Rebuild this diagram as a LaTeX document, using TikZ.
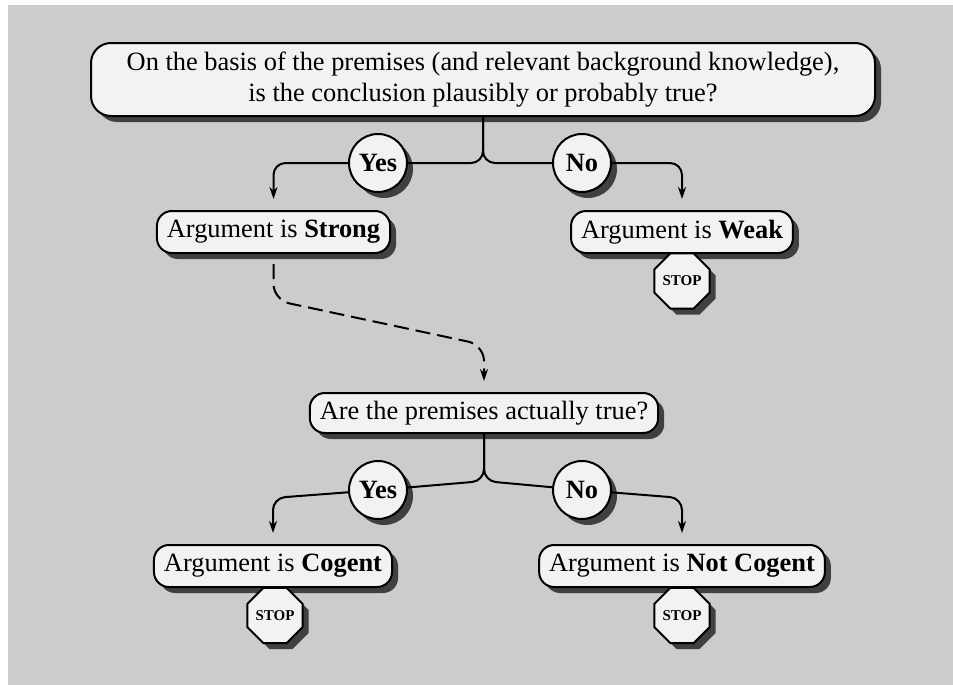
\documentclass[tikz,border=0pt]{standalone}
\usepackage{fontspec}
\setmainfont{Liberation Serif}
\usetikzlibrary{shapes.geometric,shadows,arrows.meta}

\definecolor{bggray}{HTML}{CCCCCC}
\definecolor{boxfill}{HTML}{F2F2F2}
\definecolor{shade}{HTML}{404040}

\tikzset{
  dropshade/.style={drop shadow={shadow xshift=3pt, shadow yshift=-3pt, fill=shade, opacity=1}},
  qbox/.style={draw, line width=1pt, fill=boxfill, rounded corners=7.5pt, minimum height=21pt,
    inner xsep=5pt, inner ysep=2pt, dropshade},
  answer/.style={circle, draw, line width=1pt, fill=boxfill, minimum size=29pt, inner sep=0pt,
    font=\bfseries\fontsize{13.2}{15.5}\selectfont, dropshade},
  stopsign/.style={regular polygon, regular polygon sides=8, draw, line width=1pt, fill=boxfill,
    minimum size=30pt, inner sep=0pt, font=\bfseries\fontsize{7.5}{9}\selectfont, dropshade},
  flow/.style={line width=1pt, rounded corners=6pt}
}

\begin{document}
\begin{tikzpicture}[x=0.5pt, y=-0.5pt, font=\fontsize{13.2}{15.5}\selectfont,
    >={Stealth[length=6pt,width=4pt]}, line join=round]
  \useasboundingbox (0,0) rectangle (953,685);
  \fill[bggray] (8,5) rectangle (953,685);

  % first question
  \node[qbox, rounded corners=10pt, minimum width=392pt, minimum height=36.5pt, align=center]
    (q1) at (483,79.5) {On the basis of the premises (and relevant background knowledge),\\
    is the conclusion plausibly or probably true?};

  % answers to the first question
  \node[answer] (yes1) at (378,163) {Yes};
  \node[answer] (no1) at (582,163) {No};
  \node[qbox] (strong) at (273.5,232) {Argument is \textbf{Strong}};
  \node[qbox] (weak) at (682,232) {Argument is \textbf{Weak}};
  \node[stopsign] (stop1) at (682,281) {STOP};

  % second question
  \node[qbox, minimum height=20pt] (q2) at (484,413) {Are the premises actually true?};

  % answers to the second question
  \node[answer] (yes2) at (378,490) {Yes};
  \node[answer] (no2) at (582,490) {No};
  \node[qbox] (cogent) at (273,566) {Argument is \textbf{Cogent}};
  \node[qbox] (notcogent) at (682,566) {Argument is \textbf{Not Cogent}};
  \node[stopsign] (stop2) at (275,615.5) {STOP};
  \node[stopsign] (stop3) at (682,615.5) {STOP};

  % branches of the first question
  \draw[flow] (q1.south) |- (yes1);
  \draw[flow] (q1.south) |- (no1);
  \draw[flow, ->, shorten >=5.5pt] (yes1) -| (strong.north);
  \draw[flow, ->, shorten >=5.5pt] (no1) -| (weak.north);

  % dashed link to the second question
  \coordinate (d1) at (273.5,300);
  \coordinate (d2) at (484,345);
  \draw[flow, rounded corners=8pt, dash pattern=on 7.5pt off 3.5pt, ->,
    shorten <=5pt, shorten >=5.5pt] (strong.south) -- (d1) -- (d2) -- (q2.north);

  % branches of the second question
  \coordinate (f2) at (484,481);
  \coordinate (c1) at (273,498);
  \coordinate (c2) at (682,498);
  \draw[flow] (q2.south) -- (f2) -- (yes2);
  \draw[flow] (q2.south) -- (f2) -- (no2);
  \draw[flow, ->, shorten >=5.5pt] (yes2) -- (c1) -- (cogent.north);
  \draw[flow, ->, shorten >=5.5pt] (no2) -- (c2) -- (notcogent.north);
\end{tikzpicture}
\end{document}
